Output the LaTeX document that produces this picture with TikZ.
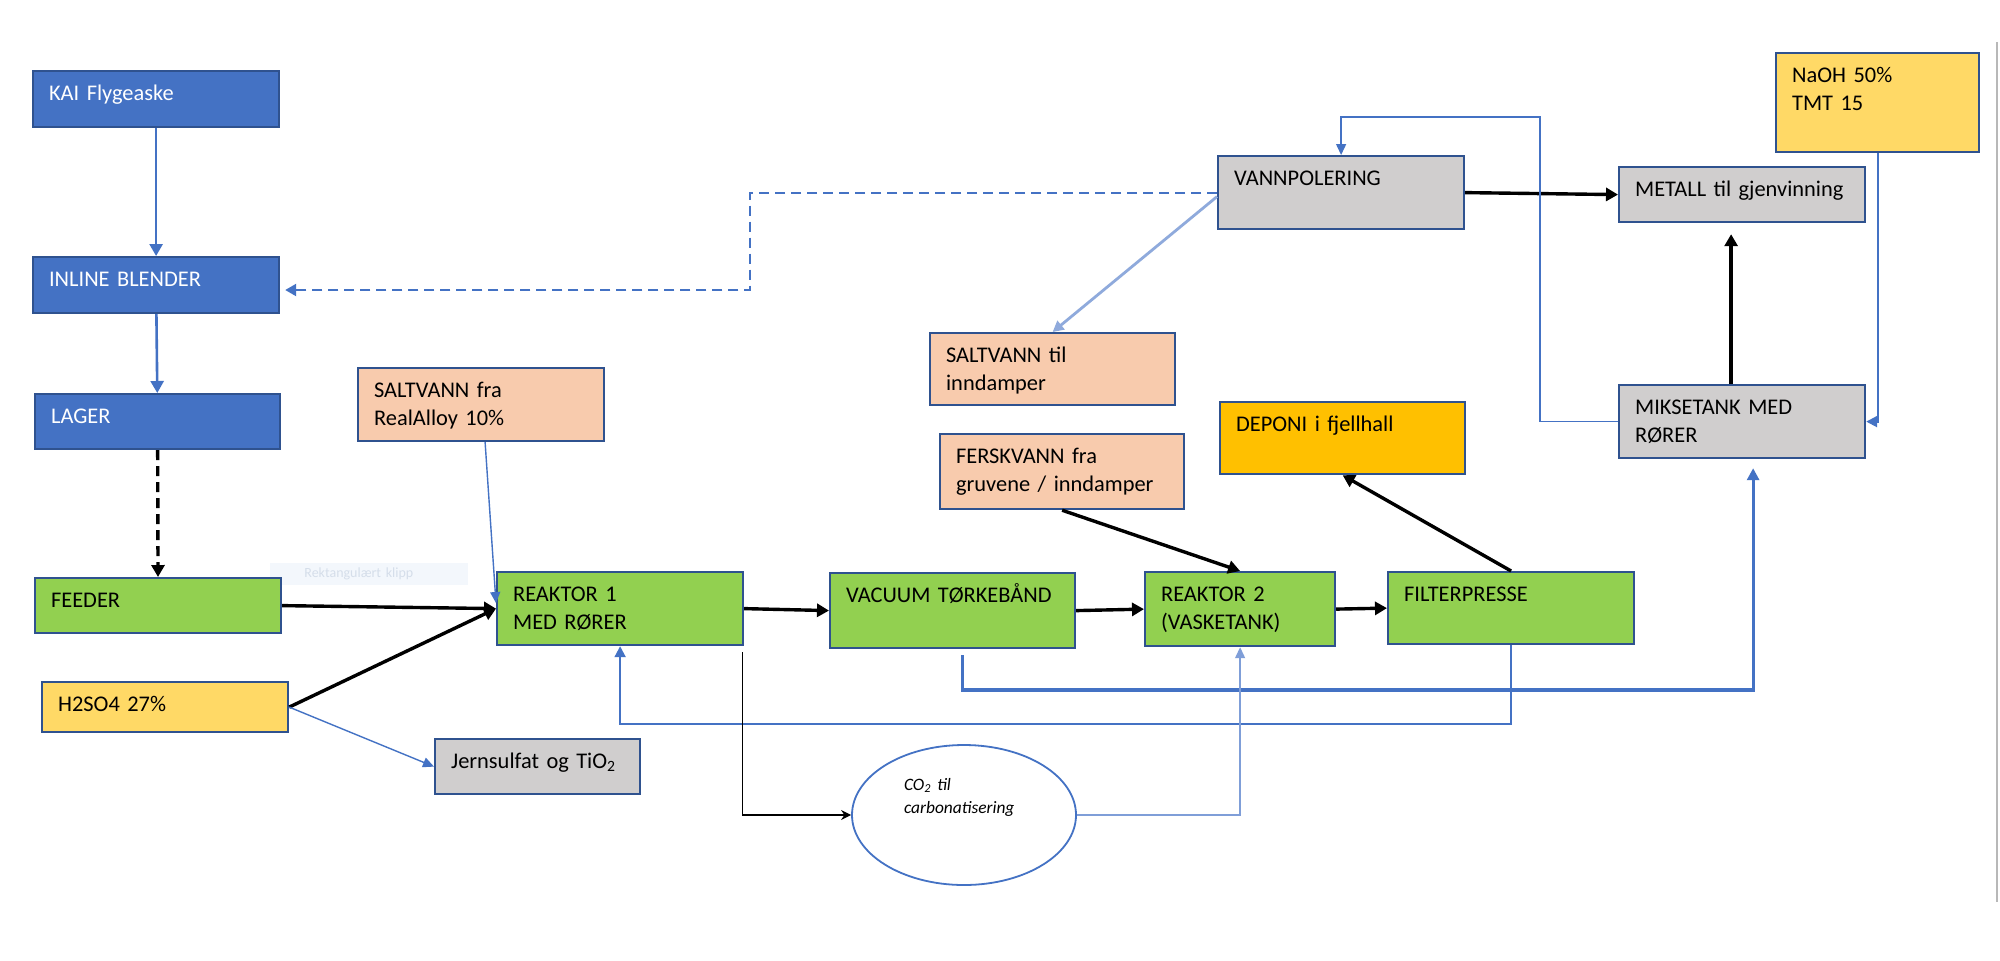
\documentclass[tikz,border=0pt]{standalone}
\usepackage{fontspec}
\setmainfont{Carlito}
\usetikzlibrary{arrows.meta,shapes.geometric}

\definecolor{boxblue}{HTML}{4472C4}
\definecolor{edgeblue}{HTML}{2F528F}
\definecolor{paleblue}{HTML}{8FAADC}
\definecolor{softblue}{HTML}{7F9ED8}
\definecolor{grasgreen}{HTML}{92D050}
\definecolor{peach}{HTML}{F8CBAD}
\definecolor{gold}{HTML}{FFD966}
\definecolor{amber}{HTML}{FFC000}
\definecolor{steelgray}{HTML}{D0CECE}
\definecolor{ghostfill}{HTML}{F3F7FC}
\definecolor{ghosttext}{HTML}{D5DEEA}

\newdimen\pix \pix=0.5pt
\newcommand{\pxl}[1]{\the\dimexpr#1\pix\relax}

\tikzset{
  box/.style={draw=edgeblue, line width=1.1pt, anchor=north west, inner xsep=\pxl{16}, inner ysep=0pt,
    text height=\pxl{29}, align=left, font=\fontsize{11.2}{14}\selectfont},
  boxdim/.style 2 args={text width=\pxl{#1}, text depth=\pxl{#2}},
  bluebox/.style={box, fill=boxblue, text=white},
  greenbox/.style={box, fill=grasgreen},
  peachbox/.style={box, fill=peach},
  goldbox/.style={box, fill=gold},
  amberbox/.style={box, fill=amber},
  graybox/.style={box, fill=steelgray},
  ghost/.style={fill=ghostfill, text=ghosttext, anchor=north west, inner xsep=\pxl{34}, inner ysep=0pt,
    text width=\pxl{130}, text height=\pxl{14}, text depth=\pxl{8}, align=left, font=\fontsize{7}{8}\selectfont},
  blackflow/.style={line width=1.7pt, -{Triangle[length=6pt,width=6.5pt]}},
  hairflow/.style={line width=0.7pt, -{Stealth[length=5pt,width=5pt]}},
  bluelink/.style={boxblue, line width=1.3pt, -{Triangle[length=6pt,width=6.5pt]}},
  widelink/.style={boxblue, line width=1.6pt, -{Triangle[length=6pt,width=6pt]}},
  midlink/.style={boxblue, line width=1pt, -{Triangle[length=5.5pt,width=5.5pt]}},
  thinlink/.style={boxblue, line width=0.7pt, -{Triangle[length=5.5pt,width=5pt]}},
  palelink/.style={paleblue, line width=1.4pt, -{Triangle[length=5.5pt,width=5.5pt]}},
  softlink/.style={softblue, line width=0.7pt, -{Triangle[length=5.5pt,width=5pt]}},
  dashlink/.style={boxblue, line width=1.1pt, dash pattern=on 5pt off 3pt, -{Triangle[length=5.5pt,width=6pt]}}
}

\begin{document}
\begin{tikzpicture}[x=0.5pt,y=-0.5pt]
\useasboundingbox[fill=white] (0,0) rectangle (2000,960);

\node[ghost] (klipp) at (270,563) {Rektangulært klipp};

% boxes
\node[bluebox, boxdim={214}{27}] (kai) at (32,70) {KAI Flygeaske};
\node[bluebox, boxdim={214}{27}] (blender) at (32,256) {INLINE BLENDER};
\node[bluebox, boxdim={213}{26}] (lager) at (34,393) {LAGER};
\node[greenbox, boxdim={214}{26}] (feeder) at (34,577) {FEEDER};
\node[goldbox, boxdim={214}{21}] (syre) at (41,681) {H2SO4 27\%};
\node[graybox, boxdim={173}{26}] (jern) at (434,738) {Jernsulfat og TiO\textsubscript{2}};
\node[peachbox, boxdim={214}{44}] (saltfra) at (357,367) {SALTVANN fra\\RealAlloy 10\%};
\node[greenbox, boxdim={214}{44}] (reak1) at (496,571) {REAKTOR 1\\MED RØRER};
\node[greenbox, boxdim={213}{46}] (vacuum) at (829,572) {VACUUM TØRKEBÅND};
\node[greenbox, boxdim={158}{45}] (reak2) at (1144,571) {REAKTOR 2\\(VASKETANK)};
\node[greenbox, boxdim={214}{43}] (filter) at (1387,571) {FILTERPRESSE};
\node[amberbox, boxdim={213}{43}] (deponi) at (1219,401) {DEPONI i fjellhall};
\node[peachbox, boxdim={212}{46}] (fersk) at (939,433) {FERSKVANN fra\\gruvene / inndamper};
\node[peachbox, boxdim={213}{43}] (salttil) at (929,332) {SALTVANN til\\inndamper};
\node[graybox, boxdim={214}{44}] (vann) at (1217,155) {VANNPOLERING};
\node[graybox, boxdim={214}{26}] (metall) at (1618,166) {METALL til gjenvinning};
\node[graybox, boxdim={214}{44}] (miks) at (1618,384) {MIKSETANK MED\\RØRER};
\node[goldbox, boxdim={171}{70}] (naoh) at (1775,52) {NaOH 50\%\\TMT 15};
\node[ellipse, draw=boxblue, line width=0.9pt, fill=white, inner sep=0pt,
  minimum width=\pxl{224}, minimum height=\pxl{140}, text width=\pxl{120}, text depth=\pxl{61},
  align=left, font=\fontsize{8.7}{11.5}\selectfont\itshape] (co2) at (964,815) {CO\textsubscript{2} til\\carbonatisering};

% turning points
\coordinate (lowA) at (0,690);
\coordinate (lowB) at (0,724);
\coordinate (topA) at (1540,117);
\coordinate (dashA) at (750,290);
\coordinate (vacout) at ([xshift=\pxl{10},yshift=-\pxl{6}]vacuum.south);
\coordinate (miksin) at ([xshift=\pxl{11},yshift=-\pxl{9}]miks.south);

% connectors
\draw[bluelink] (kai) -- (blender);
\draw[bluelink] (blender) -- (lager);
\draw[blackflow, dash pattern=on 5pt off 3pt] (lager) -- (feeder);
\draw[blackflow] (feeder.east) -- (reak1.west);
\draw[blackflow] (syre.east) -- (reak1.west);
\draw[thinlink] (syre.east) -- (jern.west);
\draw[thinlink] ([xshift=\pxl{4}]saltfra.south) -- ([yshift=-\pxl{32}]reak1.north west);
\draw[blackflow] (reak1.east) -- (vacuum.west);
\draw[blackflow] (vacuum.east) -- (reak2.west);
\draw[blackflow] (reak2.east) -- (filter.west);
\draw[blackflow] (fersk.south) -- (reak2.north);
\draw[blackflow] (filter.north) -- (deponi.south);
\draw[blackflow] (vann.east) -- (metall.west);
\draw[blackflow] ([xshift=-\pxl{11}]miks.north) -- ([xshift=-\pxl{11},yshift=-\pxl{11}]metall.south);
\draw[widelink] (vacout) |- (miksin |- lowA) -- (miksin);
\draw[midlink] (filter.south) |- (reak1.south |- lowB) -- (reak1.south);
\draw[hairflow] ([xshift=-\pxl{2},yshift=-\pxl{6}]reak1.south east) |- (co2.west);
\draw[softlink] (co2.east) -| (reak2.south);
\draw[thinlink] (miks.west) -| (topA) -| (vann.north);
\draw[dashlink, shorten >=\pxl{5}] (vann.west) -| (dashA) -- (dashA -| blender.east);
\draw[palelink] ([yshift=-\pxl{4}]vann.west) -- (salttil.north);
\draw[midlink] (naoh.south) |- (miks.east);

\draw[black!28, line width=1pt] (1997,42) -- (1997,902);
\end{tikzpicture}
\end{document}
